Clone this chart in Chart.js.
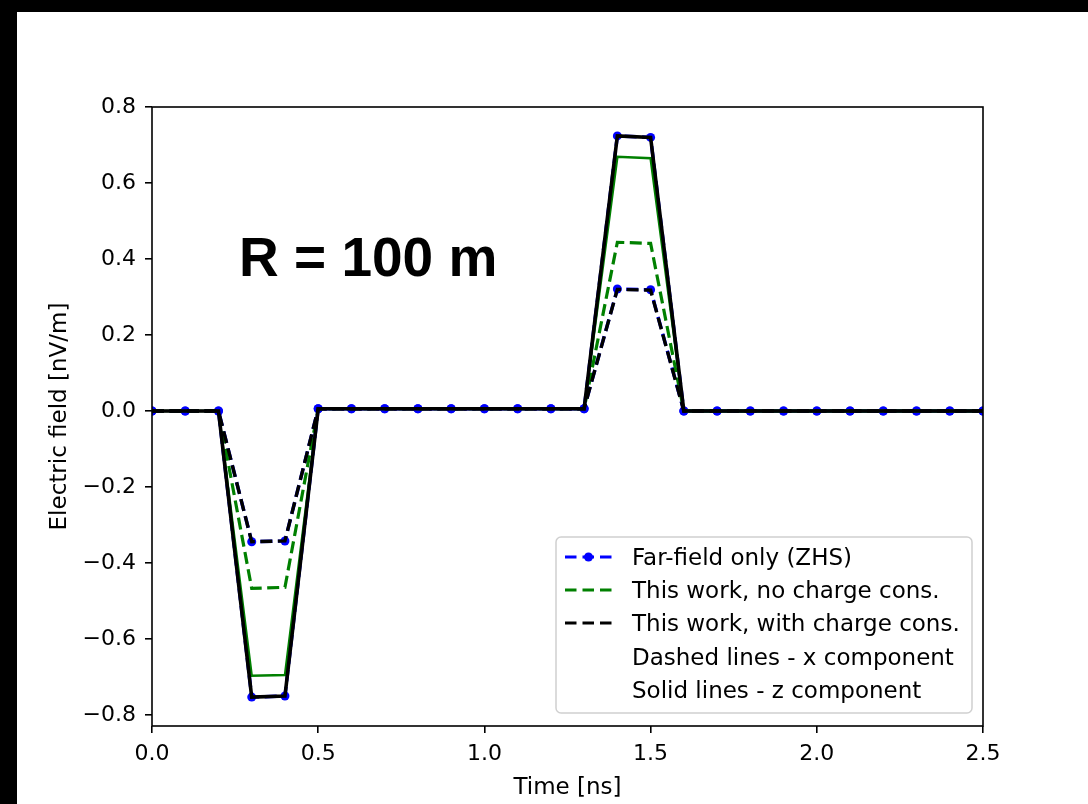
<!DOCTYPE html>
<html>
<head>
<meta charset="utf-8">
<script src="https://cdn.jsdelivr.net/npm/chart.js@4.4.0/dist/chart.umd.min.js"></script>
<style>
  html, body { margin: 0; padding: 0; background: #fff; }
  #wrap { width: 1088px; height: 804px; position: relative; }
  canvas { display: block; }
</style>
</head>
<body>
<div id="wrap"><canvas id="c" width="1088" height="804"></canvas></div>
<script>
// ---- data ----
const timeNs = [0.0, 0.1, 0.2, 0.3, 0.4, 0.5, 0.6, 0.7, 0.8, 0.9, 1.0, 1.1, 1.2, 1.3,
                1.4, 1.5, 1.6, 1.7, 1.8, 1.9, 2.0, 2.1, 2.2, 2.3, 2.4, 2.5];
const farFieldX   = [0, 0, 0, -0.344, -0.342, 0.006, 0.006, 0.006, 0.006, 0.006, 0.006, 0.006, 0.006, 0.006,
                     0.321, 0.319, 0, 0, 0, 0, 0, 0, 0, 0, 0, 0];
const farFieldZ   = [0, 0, 0, -0.753, -0.750, 0.006, 0.006, 0.006, 0.006, 0.006, 0.006, 0.006, 0.006, 0.006,
                     0.724, 0.720, 0, 0, 0, 0, 0, 0, 0, 0, 0, 0];
const noChargeX   = [0, 0, 0, -0.467, -0.464, 0.006, 0.006, 0.006, 0.006, 0.006, 0.006, 0.006, 0.006, 0.006,
                     0.444, 0.441, 0, 0, 0, 0, 0, 0, 0, 0, 0, 0];
const noChargeZ   = [0, 0, 0, -0.697, -0.695, 0.006, 0.006, 0.006, 0.006, 0.006, 0.006, 0.006, 0.006, 0.006,
                     0.669, 0.665, 0, 0, 0, 0, 0, 0, 0, 0, 0, 0];
const withChargeX = [0, 0, 0, -0.344, -0.342, 0.006, 0.006, 0.006, 0.006, 0.006, 0.006, 0.006, 0.006, 0.006,
                     0.320, 0.318, 0, 0, 0, 0, 0, 0, 0, 0, 0, 0];
const withChargeZ = [0, 0, 0, -0.753, -0.750, 0.006, 0.006, 0.006, 0.006, 0.006, 0.006, 0.006, 0.006, 0.006,
                     0.724, 0.720, 0, 0, 0, 0, 0, 0, 0, 0, 0, 0];
const xTicks = [0.0, 0.5, 1.0, 1.5, 2.0, 2.5];
const yTicks = [-0.8, -0.6, -0.4, -0.2, 0.0, 0.2, 0.4, 0.6, 0.8];
const legendLabels = ['Far-field only (ZHS)', 'This work, no charge cons.', 'This work, with charge cons.',
                      'Dashed lines - x component', 'Solid lines - z component'];
const annotationText = 'R = 100 m';
const xTitle = 'Time [ns]';
const yTitle = 'Electric field [nV/m]';

const BLUE = '#0000ff', GREEN = '#008000', BLACK = '#000000';
const pts = arr => arr.map((v, i) => ({ x: timeNs[i], y: v }));
const fmt = v => { const s = Math.abs(v).toFixed(1); return (v < -1e-9 ? '\u2212' : '') + s; };

const decor = {
  id: 'decor',
  beforeDraw(chart) {
    const ctx = chart.ctx;
    ctx.save();
    ctx.fillStyle = '#fff';
    ctx.fillRect(0, 0, chart.width, chart.height);
    ctx.restore();
  },
  afterDraw(chart) {
    const ctx = chart.ctx, a = chart.chartArea;
    ctx.save();
    // axes frame
    ctx.strokeStyle = '#000';
    ctx.lineWidth = 1.6;
    ctx.strokeRect(a.left, a.top, a.right - a.left, a.bottom - a.top);

    // annotation
    ctx.fillStyle = '#000';
    ctx.font = 'bold 55px "Liberation Sans", Arial, sans-serif';
    ctx.textAlign = 'left';
    ctx.textBaseline = 'alphabetic';
    ctx.fillText(annotationText, 239, 276);

    // axis titles
    ctx.font = '23px "DejaVu Sans", sans-serif';
    ctx.textAlign = 'center';
    ctx.fillText(xTitle, (a.left + a.right) / 2, 794);
    ctx.save();
    ctx.translate(66, (a.top + a.bottom) / 2);
    ctx.rotate(-Math.PI / 2);
    ctx.textBaseline = 'alphabetic';
    ctx.fillText(yTitle, 0, 0);
    ctx.restore();

    // legend box
    const bx = 556, by = 537, bw = 416, bh = 176, r = 5;
    ctx.beginPath();
    ctx.moveTo(bx + r, by);
    ctx.arcTo(bx + bw, by, bx + bw, by + bh, r);
    ctx.arcTo(bx + bw, by + bh, bx, by + bh, r);
    ctx.arcTo(bx, by + bh, bx, by, r);
    ctx.arcTo(bx, by, bx + bw, by, r);
    ctx.closePath();
    ctx.fillStyle = 'rgba(255,255,255,0.8)';
    ctx.fill();
    ctx.strokeStyle = '#d0d0d0';
    ctx.lineWidth = 1.5;
    ctx.stroke();

    const colors = [BLUE, GREEN, BLACK, null, null];
    const baselines = [565, 598, 631, 665, 698];
    ctx.font = '23px "DejaVu Sans", sans-serif';
    ctx.textAlign = 'left';
    ctx.textBaseline = 'alphabetic';
    legendLabels.forEach((lab, i) => {
      const yl = baselines[i] - 8;
      if (colors[i]) {
        ctx.strokeStyle = colors[i];
        ctx.lineWidth = 3.2;
        ctx.setLineDash([11.5, 6]);
        ctx.beginPath();
        ctx.moveTo(565, yl);
        ctx.lineTo(612, yl);
        ctx.stroke();
        ctx.setLineDash([]);
        if (i === 0) {
          ctx.fillStyle = BLUE;
          ctx.beginPath();
          ctx.arc(588.5, yl, 4.5, 0, Math.PI * 2);
          ctx.fill();
        }
      }
      ctx.fillStyle = '#000';
      ctx.fillText(lab, 632, baselines[i]);
    });

    // black border strips
    ctx.fillStyle = '#000';
    ctx.fillRect(0, 0, chart.width, 12);
    ctx.fillRect(0, 0, 17, chart.height);
    ctx.restore();
  }
};

new Chart(document.getElementById('c'), {
  type: 'line',
  data: {
    datasets: [
      { label: 'with charge z', data: pts(withChargeZ), borderColor: BLACK, borderWidth: 3.6, pointRadius: 0 },
      { label: 'with charge x', data: pts(withChargeX), borderColor: BLACK, borderWidth: 3.4, borderDash: [12, 5.5], pointRadius: 0 },
      { label: 'no charge z', data: pts(noChargeZ), borderColor: GREEN, borderWidth: 2.5, pointRadius: 0 },
      { label: 'no charge x', data: pts(noChargeX), borderColor: GREEN, borderWidth: 3.2, borderDash: [12, 5.5], pointRadius: 0 },
      { label: 'far field z', data: pts(farFieldZ), borderColor: BLUE, borderWidth: 3.4, borderDash: [12, 5.5],
        pointRadius: 4.5, pointBackgroundColor: BLUE, pointBorderWidth: 0 },
      { label: 'far field x', data: pts(farFieldX), borderColor: BLUE, borderWidth: 3.4, borderDash: [12, 5.5],
        pointRadius: 4.5, pointBackgroundColor: BLUE, pointBorderWidth: 0 }
    ]
  },
  options: {
    responsive: false,
    devicePixelRatio: 1,
    animation: false,
    events: [],
    layout: { padding: { top: 107, right: 105, left: 0, bottom: 0 } },
    elements: { line: { tension: 0, fill: false } },
    plugins: { legend: { display: false }, tooltip: { enabled: false } },
    scales: {
      x: {
        type: 'linear', min: 0, max: 2.5,
        afterFit: s => { s.height = 78; },
        afterBuildTicks: s => { s.ticks = xTicks.map(v => ({ value: v })); },
        grid: { drawOnChartArea: false, drawTicks: true, tickLength: 7, color: '#000', lineWidth: 1.6 },
        border: { display: false },
        ticks: { color: '#000', padding: 8, maxRotation: 0, autoSkip: false,
                 font: { family: 'DejaVu Sans', size: 22 }, callback: v => fmt(v) }
      },
      y: {
        type: 'linear', min: -0.829, max: 0.8,
        afterFit: s => { s.width = 152; },
        afterBuildTicks: s => { s.ticks = yTicks.map(v => ({ value: v })); },
        grid: { drawOnChartArea: false, drawTicks: true, tickLength: 7, color: '#000', lineWidth: 1.6 },
        border: { display: false },
        ticks: { color: '#000', padding: 9, autoSkip: false,
                 font: { family: 'DejaVu Sans', size: 22 }, callback: v => fmt(v) }
      }
    }
  },
  plugins: [decor]
});
</script>
</body>
</html>
